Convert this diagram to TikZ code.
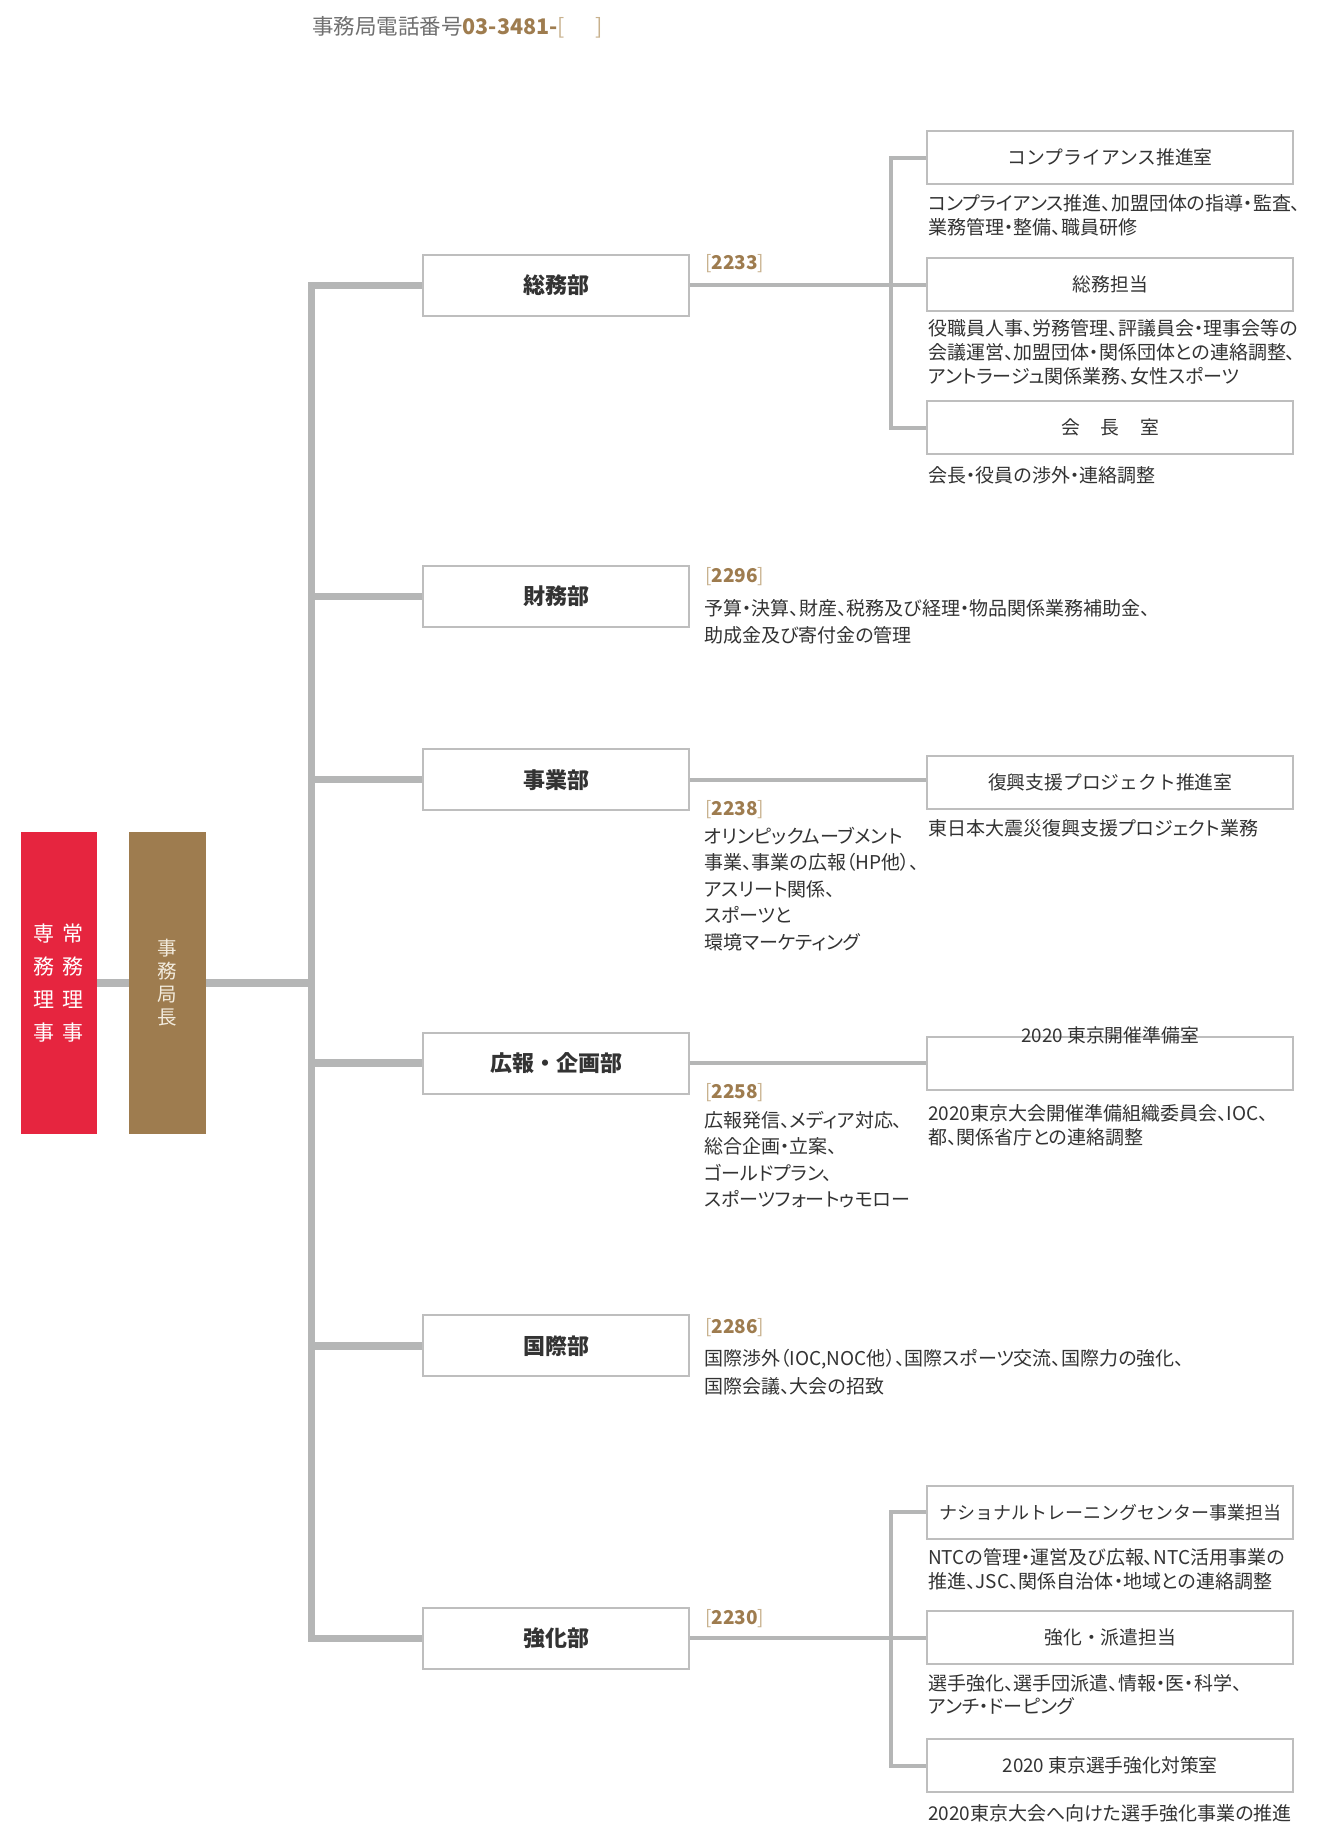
\documentclass[tikz,border=0pt]{standalone}
\usepackage{fontspec}
\setmainfont{Noto Sans CJK JP}
\newfontfamily\jpp[RawFeature=+palt]{Noto Sans CJK JP}
\definecolor{jred}{HTML}{E6253F}
\definecolor{jbrown}{HTML}{9E7C4F}
\definecolor{lbrown}{HTML}{C8B18D}
\definecolor{lgray}{HTML}{B5B6B6}
\definecolor{bgray}{HTML}{BEBEBE}
\definecolor{txt}{HTML}{333333}
\definecolor{hgray}{HTML}{707070}
\definecolor{cream}{HTML}{F2EBDD}
\newcommand{\st}{\rule{0pt}{.88em}}
\newcommand{\telno}[1]{{\color{lbrown}[}{\bfseries\color{jbrown}#1}{\color{lbrown}]}}
\tikzset{
  trunk/.style={draw=lgray, line width=7.5pt, line join=miter},
  branch/.style={draw=lgray, line width=4pt, line join=miter},
  deptbox/.style={draw=bgray, line width=2pt, fill=white, minimum width=266pt, minimum height=61pt, inner sep=0pt,
    font=\fontsize{22}{26}\selectfont\bfseries, text=txt, text height=19.4pt, text depth=2.6pt},
  subbox/.style={draw=bgray, line width=2pt, fill=white, minimum width=366.5pt, minimum height=53pt, inner sep=0pt,
    font=\fontsize{18.8}{24}\selectfont, text=txt, text height=16.5pt, text depth=2.3pt},
  subtitle/.style={inner sep=0pt, font=\fontsize{18.8}{24}\selectfont, text=txt, text height=16.5pt, text depth=2.3pt},
  desc/.style={anchor=north west, inner sep=0pt, align=left, font=\jpp\fontsize{19}{24}\selectfont, text=txt},
  ddesc/.style={desc, font=\jpp\fontsize{19}{26.5}\selectfont},
  tel/.style={anchor=west, inner sep=0pt, font=\fontsize{19}{24}\selectfont, text height=16.7pt, text depth=2.3pt},
}
\begin{document}
\begin{tikzpicture}[x=1pt,y=-1pt]
\fill[white] (0,0) rectangle (1327,1826);
\useasboundingbox (0,0) rectangle (1327,1826);

% header
\node[anchor=west, inner sep=0pt, font=\fontsize{21.5}{26}\selectfont, text height=18.9pt, text depth=2.6pt] (header) at (312,26)
  {{\color{hgray}事務局電話番号}{\bfseries\color{jbrown}03-3481-}{\color{lbrown}[}\hspace{30pt}{\color{lbrown}]}};

% left boxes
\node[fill=jred, minimum width=76pt, minimum height=302pt, inner sep=0pt, text=white, align=center,
  font=\fontsize{21}{32.8}\selectfont] (senmu) at (58.7,983)
  {専\hspace{7.7pt}常\\務\hspace{7.7pt}務\\理\hspace{7.7pt}理\\事\hspace{7.7pt}事};
\node[fill=jbrown, minimum width=76.4pt, minimum height=302pt, inner sep=0pt, text=cream, align=center,
  font=\fontsize{19.5}{23}\selectfont] (kyoku) at (167.5,983) {事\\務\\局\\長};

% departments
\node[deptbox] (soumu)   at (556,285.5) {総務部};
\node[deptbox] (zaimu)   at (556,596.3) {財務部};
\node[deptbox] (jigyo)   at (556,779.7) {事業部};
\node[deptbox] (kouhou)  at (556,1063)  {広報・企画部};
\node[deptbox] (kokusai) at (556,1345.8){国際部};
\node[deptbox] (kyouka)  at (556,1638.3){強化部};

% sub boxes
\node[subbox] (comp)    at (1110.2,157.7) {コンプライアンス推進室};
\node[subbox] (tantou)  at (1110.2,284.5) {総務担当};
\node[subbox] (kaichou) at (1110.2,427.5) {会\hspace{21pt}長\hspace{21pt}室};
\node[subbox] (fukkou)  at (1110.2,782.2) {復興支援プロジェクト推進室};
\node[subbox] (kaisai)  at (1110.2,1063)  {};
\node[subtitle] (kaisaiT) at (kaisai.north) {2020 東京開催準備室};
\node[subbox, font=\fontsize{18}{24}\selectfont] (ntc) at (1110.2,1512) {ナショナルトレーニングセンター事業担当};
\node[subbox] (haken)   at (1110.2,1637.8) {強化・派遣担当};
\node[subbox] (senshu)  at (1110.2,1765.8) {2020 東京選手強化対策室};

% main trunk
\coordinate (tr) at (311.3,983);
\draw[trunk] (senmu.east) -- (kyoku.west);
\draw[trunk] (kyoku.east) -- (tr);
\draw[trunk] (soumu.west) -| (tr) |- (kyouka.west);
\draw[trunk] (zaimu.west) -- (zaimu.west -| tr);
\draw[trunk] (jigyo.west) -- (jigyo.west -| tr);
\draw[trunk] (kouhou.west) -- (kouhou.west -| tr);
\draw[trunk] (kokusai.west) -- (kokusai.west -| tr);

% sub connectors
\coordinate (s1) at (890.5,0);
\draw[branch] (comp.west) -| (s1 |- kaichou.west) -- (kaichou.west);
\draw[branch] (soumu.east |- tantou.west) -- (tantou.west);
\draw[branch] (jigyo.east) -- (jigyo.east -| fukkou.west);
\draw[branch] (kouhou.east) -- (kouhou.east -| kaisai.west);
\draw[branch] (ntc.west) -| (s1 |- senshu.west) -- (senshu.west);
\draw[branch] (kyouka.east) -- (kyouka.east -| haken.west);

% phone numbers
\node[tel] (t1) at (705,262.5) {\telno{2233}};
\node[tel] (t2) at (705,575)   {\telno{2296}};
\node[tel] (t3) at (705,808.3) {\telno{2238}};
\node[tel] (t4) at (705,1091)  {\telno{2258}};
\node[tel] (t5) at (705,1326)  {\telno{2286}};
\node[tel] (t6) at (705,1617.7){\telno{2230}};

% descriptions
\node[desc] (d1) at (928,193.2) {\st コンプライアンス推進、加盟団体の指導・監査、\\業務管理・整備、職員研修};
\node[desc] (d2) at (928,318.5) {\st 役職員人事、労務管理、評議員会・理事会等の\\会議運営、加盟団体・関係団体との連絡調整、\\アントラージュ関係業務、女性スポーツ};
\node[desc] (d3) at (928,465.5) {\st 会長・役員の渉外・連絡調整};
\node[ddesc] (d4) at (704,598.8) {\st 予算・決算、財産、税務及び経理・物品関係業務補助金、\\助成金及び寄付金の管理};
\node[ddesc] (d5) at (704,826.5) {\st オリンピックムーブメント\\事業、事業の広報（HP他）、\\アスリート関係、\\スポーツと\\環境マーケティング};
\node[desc] (d6) at (928,818.8) {\st 東日本大震災復興支援プロジェクト業務};
\node[ddesc] (d7) at (704,1110.5) {\st 広報発信、メディア対応、\\総合企画・立案、\\ゴールドプラン、\\スポーツフォートゥモロー};
\node[desc] (d8) at (928,1103.8) {\st 2020東京大会開催準備組織委員会、IOC、\\都、関係省庁との連絡調整};
\node[ddesc, font=\jpp\fontsize{19}{27.5}\selectfont] (d9) at (704,1348.8) {\st 国際渉外（IOC,NOC他）、国際スポーツ交流、国際力の強化、\\国際会議、大会の招致};
\node[desc] (d10) at (928,1547.8) {\st NTCの管理・運営及び広報、NTC活用事業の\\推進、JSC、関係自治体・地域との連絡調整};
\node[desc, font=\jpp\fontsize{19}{23}\selectfont] (d11) at (928,1673.2) {\st 選手強化、選手団派遣、情報・医・科学、\\アンチ・ドーピング};
\node[desc] (d12) at (928,1803.8) {\st 2020東京大会へ向けた選手強化事業の推進};
\end{tikzpicture}
\end{document}
